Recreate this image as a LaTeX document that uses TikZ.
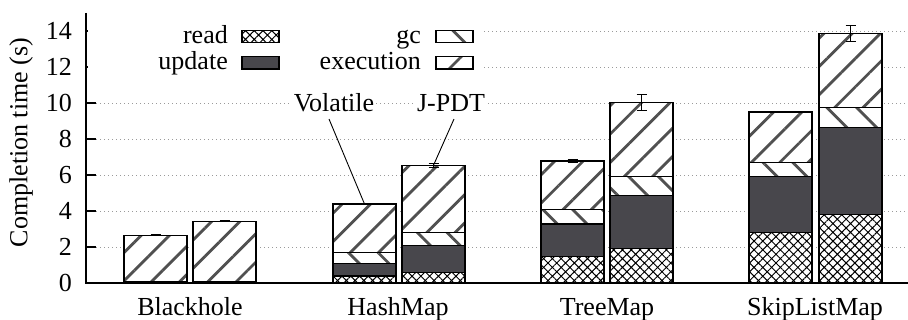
\documentclass[tikz,border=0pt]{standalone}
\usepackage{fontspec}
\setmainfont{Liberation Serif}
\usetikzlibrary{patterns.meta}

\definecolor{updgray}{HTML}{48474C}
\definecolor{hatchgray}{HTML}{505050}
\definecolor{gridgray}{HTML}{9A9A9A}

\tikzset{
  readseg/.style={pattern={Hatch[angle=45,distance=6.2pt,line width=1pt]},pattern color=black},
  updseg/.style={fill=updgray},
  gcseg/.style={pattern={Lines[angle=-45,distance=21pt,line width=2.8pt]},pattern color=hatchgray},
  exeseg/.style={pattern={Lines[angle=45,distance=20pt,line width=2.8pt]},pattern color=hatchgray},
  segborder/.style={draw=black,line width=1.1pt},
  gridline/.style={draw=gridgray,line width=0.7pt,dash pattern=on 1pt off 3pt},
  axisline/.style={draw=black,line width=1.1pt},
  lbl/.style={font=\fontsize{26}{31}\selectfont,inner sep=0pt},
  errbar/.style={draw=black,line width=1pt},
  leader/.style={draw=black,line width=0.9pt},
}

% one stacked segment: left x, bottom, top, style
\newcommand\barseg[4]{%
  \fill[white] (#1,#2) rectangle (#1+63,#3);
  \fill[#4] (#1,#2) rectangle (#1+63,#3);
  \draw[segborder] (#1,#2) rectangle (#1+63,#3);
}
% stacked bar: name, left x, read, read+update, +gc, total, error
\newcommand\stackbar[7]{%
  \barseg{#2}{0}{#3}{readseg}
  \barseg{#2}{#3}{#4}{updseg}
  \barseg{#2}{#4}{#5}{gcseg}
  \barseg{#2}{#5}{#6}{exeseg}
  \coordinate (#1) at (#2+31.5,#6);
  \draw[errbar] (#2+31.5,#6-#7) -- (#2+31.5,#6+#7)
    (#2+26.5,#6-#7) -- (#2+36.5,#6-#7)
    (#2+26.5,#6+#7) -- (#2+36.5,#6+#7);
}

\begin{document}
\begin{tikzpicture}[x=1pt,y=18pt]
\useasboundingbox (0,-37/18) rectangle (908,283/18);

% horizontal grid
\foreach \v in {2,4,...,14}
  \draw[gridline] (96,\v) -- (908,\v);

% bars
\stackbar{bh1}{124}{0.02}{0.05}{0.08}{2.65}{0.02}
\stackbar{bh2}{193}{0.02}{0.05}{0.08}{3.43}{0.03}
\stackbar{hm1}{333}{0.39}{1.06}{1.70}{4.39}{0.05}
\stackbar{hm2}{402}{0.59}{2.09}{2.82}{6.54}{0.10}
\stackbar{tm1}{541}{1.46}{3.28}{4.06}{6.78}{0.07}
\stackbar{tm2}{610}{1.93}{4.85}{5.94}{10.02}{0.44}
\stackbar{sl1}{749}{2.82}{5.93}{6.70}{9.50}{0.04}
\stackbar{sl2}{819}{3.83}{8.65}{9.74}{13.87}{0.43}

% axes
\draw[axisline] (86,15) -- (86,0) -- (908,0);
\foreach \v in {0,2,...,14} {
  \draw[axisline] (86,\v) -- (96,\v);
  \node[lbl,anchor=east] (t\v) at (72,\v) {\v};
}
\node[lbl,rotate=90] (ylab) at (21,7.8) {Completion time (s)};

% category labels
\node[lbl,anchor=base] (cbh) at (190,-1.83) {Blackhole};
\node[lbl,anchor=base] (chm) at (398,-1.83) {HashMap};
\node[lbl,anchor=base] (ctm) at (607,-1.83) {TreeMap};
\node[lbl,anchor=base] (csl) at (815,-1.83) {SkipListMap};

% legend
\fill[white] (88,10.7) rectangle (484,14.9);
\node[lbl,anchor=base east] (lread) at (228,13.33) {read};
\node[lbl,anchor=base east] (lupd) at (228,11.87) {update};
\node[lbl,anchor=base east] (lgc) at (421,13.33) {gc};
\node[lbl,anchor=base east] (lexe) at (421,11.87) {execution};
\foreach \bx/\by/\st in {242/13.36/readseg, 242/11.89/updseg, 436/13.36/gcseg, 436/11.89/exeseg} {
  \fill[white] (\bx,\by) rectangle (\bx+37,\by+0.69);
  \fill[\st] (\bx,\by) rectangle (\bx+37,\by+0.69);
  \draw[segborder] (\bx,\by) rectangle (\bx+37,\by+0.69);
}

% series labels with leaders
\node[lbl,fill=white,inner sep=2pt] (vol) at (334,10.02) {Volatile};
\node[lbl,fill=white,inner sep=2pt] (jpdt) at (451,10.02) {J-PDT};
\draw[leader] (329,9.11) -- (hm1);
\draw[leader] (454,9.11) -- (hm2);
\end{tikzpicture}
\end{document}
